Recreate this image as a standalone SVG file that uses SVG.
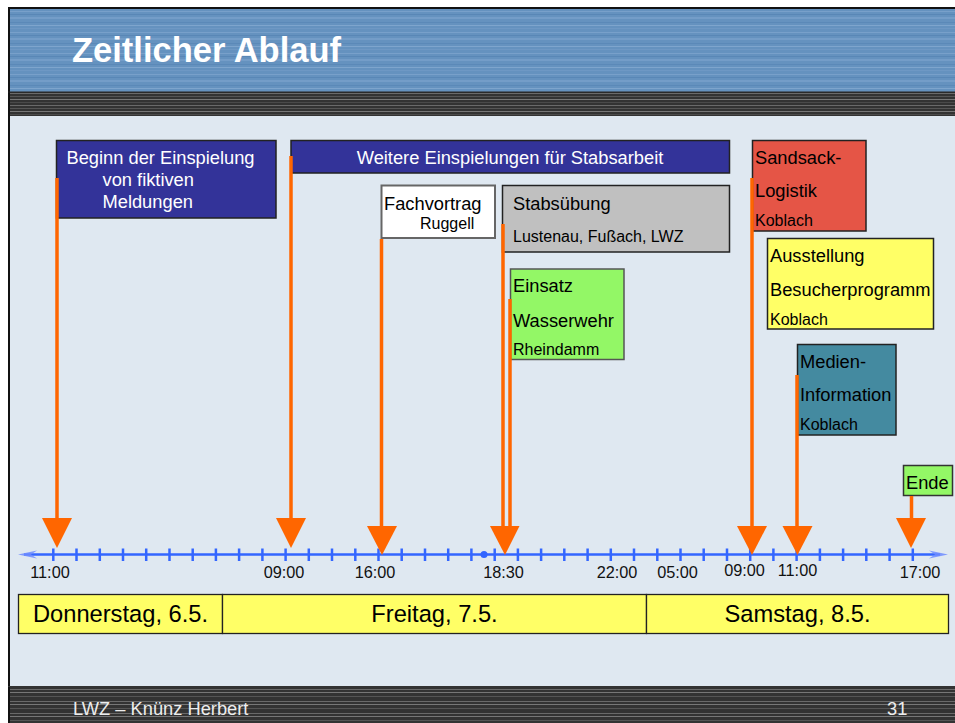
<svg xmlns="http://www.w3.org/2000/svg" width="955" height="723" viewBox="0 0 955 723">
<defs>
<pattern id="hdrStripes" x="0" y="9" width="955" height="21" patternUnits="userSpaceOnUse">
<rect width="955" height="21" fill="#6592BF"/>
<rect y="2" width="955" height="1" fill="#78A0CA"/>
<rect y="5" width="955" height="1" fill="#5987B6"/>
<rect y="8" width="955" height="2" fill="#749DC8"/>
<rect y="13" width="955" height="1" fill="#5B89B8"/>
<rect y="16" width="955" height="1" fill="#7EA5CD"/>
<rect y="19" width="955" height="1" fill="#6E98C4"/>
</pattern>
<pattern id="darkStripes" x="0" y="92" width="955" height="12" patternUnits="userSpaceOnUse">
<rect width="955" height="12" fill="#333333"/>
<rect y="1" width="955" height="1" fill="#6A6A6A"/>
<rect y="4" width="955" height="1" fill="#555555"/>
<rect y="7" width="955" height="1" fill="#777777"/>
<rect y="10" width="955" height="1" fill="#4A4A4A"/>
</pattern>
<pattern id="footStripes" x="0" y="687" width="955" height="12" patternUnits="userSpaceOnUse">
<rect width="955" height="12" fill="#333333"/>
<rect y="2" width="955" height="1" fill="#6A6A6A"/>
<rect y="5" width="955" height="1" fill="#777777"/>
<rect y="9" width="955" height="1" fill="#555555"/>
</pattern>
<style>
.t{font-family:"Liberation Sans",Arial,sans-serif;}
.box{stroke:#222;stroke-width:1.5;}
.w{fill:#ffffff;font-size:18.3px;}
.b{fill:#000000;font-size:18.3px;}
.s{fill:#000000;font-size:16px;}
.tm{fill:#111;font-size:16.3px;text-anchor:middle;}
.day{fill:#000;font-size:23.7px;text-anchor:middle;}
.arr{stroke:#FF6600;stroke-width:3.5;fill:none;}
.head{fill:#FF6600;}
.tick{stroke:#3366FF;stroke-width:2.5;}
</style>
</defs>

<!-- background / frame -->
<rect x="0" y="0" width="955" height="723" fill="#ffffff"/>
<rect x="8" y="9" width="947" height="83" fill="url(#hdrStripes)"/>
<rect x="8" y="92" width="947" height="24" fill="url(#darkStripes)"/>
<rect x="8" y="116" width="947" height="571" fill="#DFE8F1"/>
<rect x="8" y="687" width="947" height="36" fill="url(#footStripes)"/>
<line x1="8" y1="8" x2="955" y2="8" stroke="#111" stroke-width="2"/>
<line x1="9" y1="8" x2="9" y2="723" stroke="#111" stroke-width="2"/>
<line x1="8" y1="92" x2="955" y2="92" stroke="#222" stroke-width="1"/>
<line x1="8" y1="686.5" x2="955" y2="686.5" stroke="#333" stroke-width="1"/>

<text class="t" x="72" y="62" font-size="34.5" font-weight="bold" fill="#ffffff">Zeitlicher Ablauf</text>
<text class="t" x="73" y="715" font-size="18.3" fill="#EDEDED">LWZ – Knünz Herbert</text>
<text class="t" x="887" y="715" font-size="18.3" fill="#EDEDED">31</text>

<!-- timeline axis -->
<g id="axis">
<line x1="24" y1="554.5" x2="940" y2="554.5" stroke="#3366FF" stroke-width="2.5"/>
<path d="M37,550.5 L18,554.5 L37,558.5 L31,554.5 Z" fill="#6F8CFF" opacity="0.85"/>
<path d="M929,550.5 L948,554.5 L929,558.5 L935,554.5 Z" fill="#6F8CFF" opacity="0.85"/>
<g class="tick">
<line x1="53.3" y1="548.5" x2="53.3" y2="561"/><line x1="76.5" y1="548.5" x2="76.5" y2="561"/>
<line x1="99.8" y1="548.5" x2="99.8" y2="561"/><line x1="123" y1="548.5" x2="123" y2="561"/>
<line x1="146.2" y1="548.5" x2="146.2" y2="561"/><line x1="169.5" y1="548.5" x2="169.5" y2="561"/>
<line x1="192.7" y1="548.5" x2="192.7" y2="561"/><line x1="215.9" y1="548.5" x2="215.9" y2="561"/>
<line x1="239.1" y1="548.5" x2="239.1" y2="561"/><line x1="262.4" y1="548.5" x2="262.4" y2="561"/>
<line x1="285.6" y1="548.5" x2="285.6" y2="561"/><line x1="308.8" y1="548.5" x2="308.8" y2="561"/>
<line x1="332" y1="548.5" x2="332" y2="561"/><line x1="355.3" y1="548.5" x2="355.3" y2="561"/>
<line x1="378.5" y1="548.5" x2="378.5" y2="561"/><line x1="401.7" y1="548.5" x2="401.7" y2="561"/>
<line x1="425" y1="548.5" x2="425" y2="561"/><line x1="448.2" y1="548.5" x2="448.2" y2="561"/>
<line x1="471.4" y1="548.5" x2="471.4" y2="561"/><line x1="494.7" y1="548.5" x2="494.7" y2="561"/>
<line x1="517.9" y1="548.5" x2="517.9" y2="561"/><line x1="541.1" y1="548.5" x2="541.1" y2="561"/>
<line x1="564.3" y1="548.5" x2="564.3" y2="561"/><line x1="587.6" y1="548.5" x2="587.6" y2="561"/>
<line x1="610.8" y1="548.5" x2="610.8" y2="561"/><line x1="634" y1="548.5" x2="634" y2="561"/>
<line x1="657.3" y1="548.5" x2="657.3" y2="561"/><line x1="680.5" y1="548.5" x2="680.5" y2="561"/>
<line x1="703.7" y1="548.5" x2="703.7" y2="561"/><line x1="727" y1="548.5" x2="727" y2="561"/>
<line x1="750.2" y1="548.5" x2="750.2" y2="561"/><line x1="773.4" y1="548.5" x2="773.4" y2="561"/>
<line x1="796.6" y1="548.5" x2="796.6" y2="561"/><line x1="819.9" y1="548.5" x2="819.9" y2="561"/>
<line x1="843.1" y1="548.5" x2="843.1" y2="561"/><line x1="866.3" y1="548.5" x2="866.3" y2="561"/>
<line x1="889.6" y1="548.5" x2="889.6" y2="561"/><line x1="912.8" y1="548.5" x2="912.8" y2="561"/>
</g>
<circle cx="484" cy="554.5" r="3.5" fill="#3366FF"/>
<g class="t">
<text class="tm" x="50" y="578">11:00</text>
<text class="tm" x="284" y="578">09:00</text>
<text class="tm" x="375" y="578">16:00</text>
<text class="tm" x="503.5" y="578">18:30</text>
<text class="tm" x="617" y="578">22:00</text>
<text class="tm" x="677.5" y="578">05:00</text>
<text class="tm" x="744.5" y="576">09:00</text>
<text class="tm" x="797.5" y="576">11:00</text>
<text class="tm" x="920" y="578">17:00</text>
</g>
</g>

<!-- day bar -->
<g id="days" class="t">
<rect x="18.5" y="594.5" width="204" height="39" fill="#FFFF66" stroke="#222" stroke-width="1.3"/>
<rect x="222.5" y="594.5" width="424" height="39" fill="#FFFF66" stroke="#222" stroke-width="1.3"/>
<rect x="646.5" y="594.5" width="302" height="39" fill="#FFFF66" stroke="#222" stroke-width="1.3"/>
<text class="day" x="120.5" y="622">Donnerstag, 6.5.</text>
<text class="day" x="434.5" y="622">Freitag, 7.5.</text>
<text class="day" x="797.5" y="622">Samstag, 8.5.</text>
</g>

<!-- nodes -->
<g id="beginn" class="t">
<rect class="box" x="56.5" y="140.5" width="219.5" height="77.5" fill="#333399"/>
<text class="w" x="66.5" y="164">Beginn der Einspielung</text>
<text class="w" x="102.5" y="186">von fiktiven</text>
<text class="w" x="102.5" y="207.5">Meldungen</text>
</g>
<g id="weitere" class="t">
<rect class="box" x="291" y="140.5" width="438.5" height="32.5" fill="#333399"/>
<text class="w" x="510" y="164" text-anchor="middle">Weitere Einspielungen für Stabsarbeit</text>
</g>
<g id="fachvortrag" class="t">
<rect x="381.5" y="185.5" width="113.5" height="52.5" fill="#ffffff" stroke="#666" stroke-width="2"/>
<text class="b" x="384" y="210">Fachvortrag</text>
<text class="s" x="420" y="229">Ruggell</text>
</g>
<g id="stabsuebung" class="t">
<rect class="box" x="502.5" y="185.5" width="227" height="66.5" fill="#C0C0C0"/>
<text class="b" x="513" y="210">Stabsübung</text>
<text class="s" x="513" y="242">Lustenau, Fußach, LWZ</text>
</g>
<g id="einsatz" class="t">
<rect x="510.5" y="269" width="113.5" height="90.5" fill="#93F766" stroke="#555" stroke-width="1.5"/>
<text class="b" x="513" y="292">Einsatz</text>
<text class="b" x="513" y="326.5">Wasserwehr</text>
<text class="s" x="513" y="355">Rheindamm</text>
</g>
<g id="sandsack" class="t">
<rect class="box" x="752.5" y="140.5" width="113.5" height="90.5" fill="#E55546"/>
<text class="b" x="755" y="163.5">Sandsack-</text>
<text class="b" x="755" y="197">Logistik</text>
<text class="s" x="755" y="226" font-size="15.5">Koblach</text>
</g>
<g id="ausstellung" class="t">
<rect class="box" x="767.5" y="238.5" width="166" height="90.5" fill="#FFFF66"/>
<text class="b" x="770" y="262">Ausstellung</text>
<text class="b" x="770" y="296">Besucherprogramm</text>
<text class="s" x="770" y="324.5" font-size="15.5">Koblach</text>
</g>
<g id="medien" class="t">
<rect class="box" x="797.5" y="344.5" width="98.5" height="90.5" fill="#448AA0"/>
<text class="b" x="800" y="367.5">Medien-</text>
<text class="b" x="800" y="401">Information</text>
<text class="s" x="800" y="430" font-size="15.5">Koblach</text>
</g>
<g id="ende" class="t">
<rect x="903.5" y="465.5" width="49" height="30" fill="#93F766" stroke="#333" stroke-width="1.5"/>
<text class="b" x="906" y="488.5">Ende</text>
</g>

<!-- connectors -->
<g id="connectors">
<line class="arr" x1="57" y1="178" x2="57" y2="522"/>
<polygon class="head" points="42,518 72,518 57,548"/>
<line class="arr" x1="291" y1="156" x2="291" y2="522"/>
<polygon class="head" points="276,518 306,518 291,548"/>
<line class="arr" x1="381.5" y1="239" x2="381.5" y2="530"/>
<polygon class="head" points="367,526 397,526 382,555"/>
<line class="arr" x1="503" y1="224" x2="503" y2="530"/>
<line class="arr" x1="510" y1="299" x2="510" y2="530"/>
<polygon class="head" points="490,526 519.5,526 505,555"/>
<line class="arr" x1="752" y1="178" x2="752" y2="530"/>
<polygon class="head" points="737,526 767,526 752,555"/>
<line class="arr" x1="797" y1="375" x2="797" y2="530"/>
<polygon class="head" points="782.5,526 812.5,526 797.5,555"/>
<line class="arr" x1="911.5" y1="496" x2="911.5" y2="522"/>
<polygon class="head" points="896,518 926,518 911,548"/>
</g>
</svg>
